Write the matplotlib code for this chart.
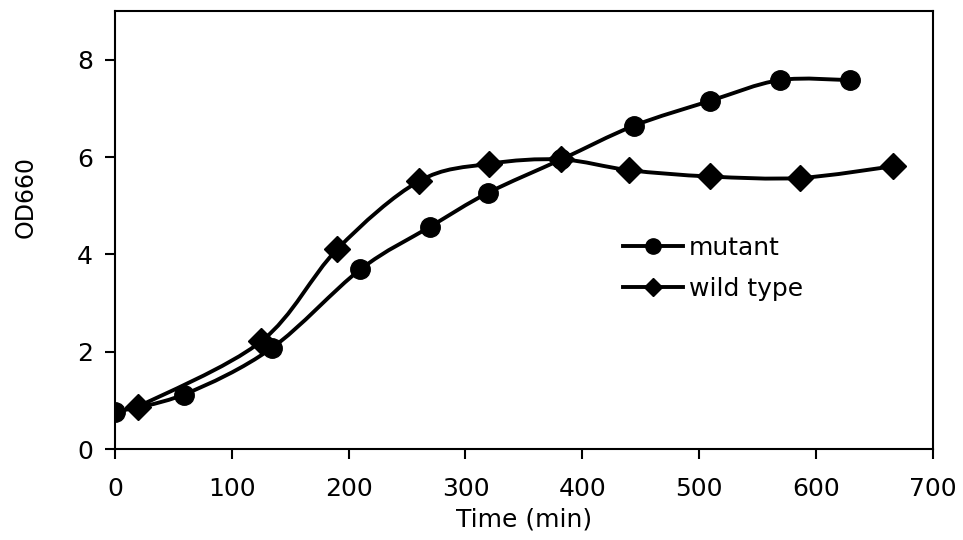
import numpy as np
import matplotlib.pyplot as plt
from matplotlib.path import Path
from matplotlib.patches import PathPatch

plt.rcParams['font.family'] = ['DejaVu Sans']

# data
mutant_t = [0, 59, 134, 210, 270, 319, 382, 444, 509, 569, 629]
mutant_od = [0.76, 1.12, 2.07, 3.69, 4.57, 5.26, 5.95, 6.64, 7.15, 7.58, 7.58]
wild_t = [20, 125, 190, 260, 320, 382, 440, 509, 586, 666]
wild_od = [0.87, 2.21, 4.10, 5.50, 5.86, 5.95, 5.73, 5.60, 5.57, 5.81]


def smooth_path(x, y):
    # excel style smoothed line: cubic bezier through every point
    p = np.column_stack([x, y]).astype(float)
    n = len(p)
    verts = [p[0]]
    codes = [Path.MOVETO]
    for i in range(n - 1):
        p0 = p[i - 1] if i > 0 else p[i]
        p3 = p[i + 2] if i + 2 < n else p[i + 1]
        c1 = p[i] + (p[i + 1] - p0) / 6
        c2 = p[i + 1] - (p3 - p[i]) / 6
        verts += [c1, c2, p[i + 1]]
        codes += [Path.CURVE4] * 3
    return Path(verts, codes)


fig = plt.figure(figsize=(9.63, 5.4), dpi=100)
ax = fig.add_axes([0.1194, 0.1685, 0.8492, 0.8111])

for t, od, mk, lab in [(mutant_t, mutant_od, 'o', 'mutant'),
                       (wild_t, wild_od, 'D', 'wild type')]:
    ax.add_patch(PathPatch(smooth_path(t, od), fill=False, lw=2.8,
                           edgecolor='black', capstyle='round', zorder=2))
    ax.plot(t, od, ls='none', marker=mk, color='black',
            ms=14 if mk == 'o' else 13, zorder=3)
    # proxy for the legend
    ax.plot([], [], color='black', lw=2.8, marker=mk,
            ms=11 if mk == 'o' else 9.5, label=lab)

ax.set_xlim(0, 700)
ax.set_ylim(0, 9)
ax.set_xticks(range(0, 701, 100))
ax.set_yticks(range(0, 9, 2))
ax.tick_params(direction='out', length=7, width=1.5, labelsize=18)
ax.tick_params(axis='x', pad=13)
ax.tick_params(axis='y', pad=9)
for s in ax.spines.values():
    s.set_linewidth(1.5)

ax.set_xlabel('Time (min)', fontsize=18, labelpad=5)
ax.set_ylabel('OD660', fontsize=17)
ax.yaxis.set_label_coords(-0.095, 0.575)

ax.legend(loc='upper left', bbox_to_anchor=(0.621, 0.486), frameon=False,
          fontsize=18, handlelength=2.4, handletextpad=0.25,
          labelspacing=0.68, borderpad=0, borderaxespad=0)

fig.savefig('out.png', dpi=100)
